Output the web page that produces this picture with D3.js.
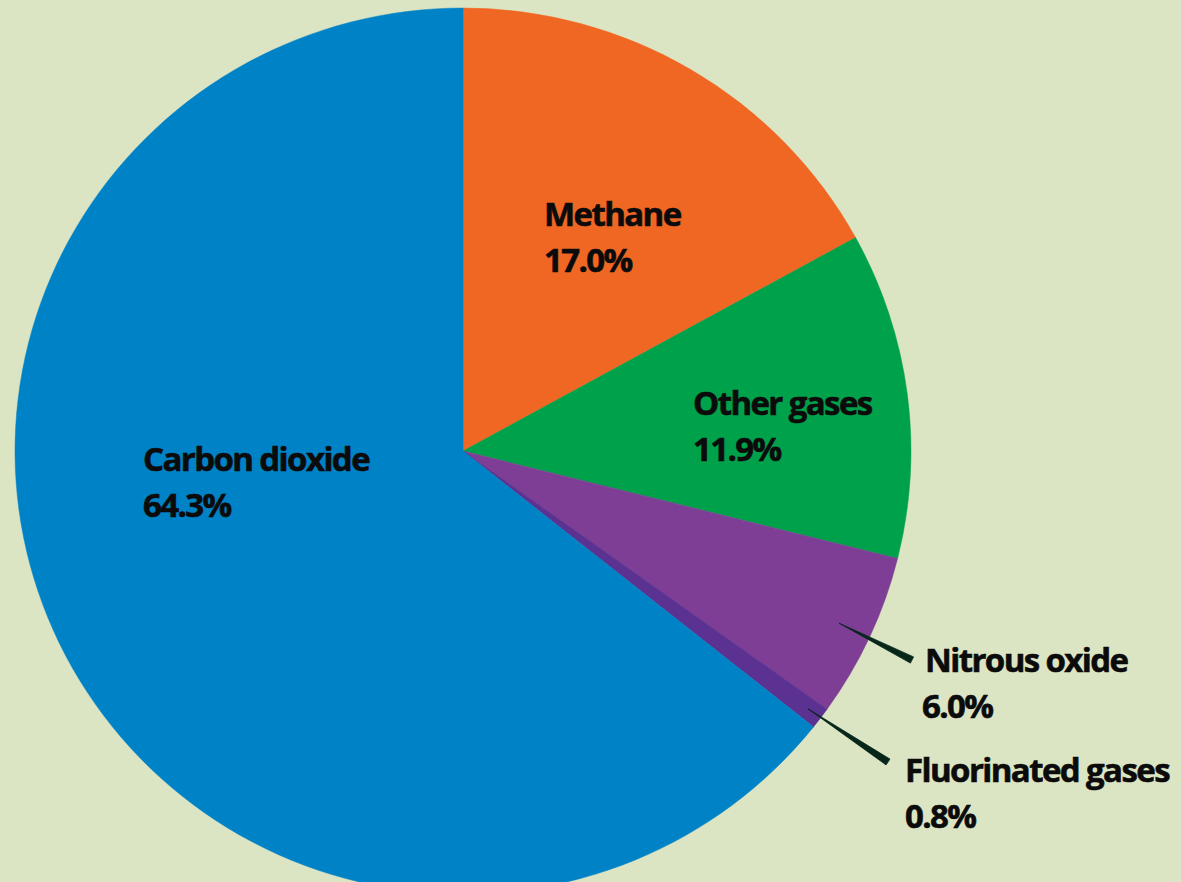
<!DOCTYPE html>
<html>
<head>
<meta charset="utf-8">
<script src="https://cdn.jsdelivr.net/npm/d3@7"></script>
<style>
  html, body { margin: 0; padding: 0; background: #dce5c3; overflow: hidden; }
  svg { display: block; }
  text { font-family: "Open Sans", "DejaVu Sans", sans-serif; font-weight: 700; fill: #0b0b0b; }
</style>
</head>
<body>
<svg id="chart" width="1181" height="882"></svg>
<script>
// Greenhouse gas shares, clockwise from 12 o'clock
const gases = ["Methane", "Other gases", "Nitrous oxide", "Fluorinated gases", "Carbon dioxide"];
const shares = [17.0, 11.9, 6.0, 0.8, 64.3];
const colors = ["#f06724", "#00a14b", "#7e3e96", "#5b3191", "#0082c6"];

// Label layout: inside labels sit in their slice, outside ones get a tapered leader
const labelLayout = [
  { x: 544, y: 226, outside: false },
  { x: 693, y: 415, outside: false },
  { x: 925, y: 672, outside: true, lead: [0.925, 912, 660], x2: 922 },
  { x: 905, y: 782, outside: true, lead: [0.965, 888, 762], x2: 905 },
  { x: 143, y: 471, outside: false }
];

const W = 1181, H = 882;
const cx = 463, cy = 451, R = 448, ry = 443;
const yScale = ry / R;

const svg = d3.select("#chart");
svg.append("rect").attr("width", W).attr("height", H).attr("fill", "#dce5c3");

const data = gases.map((g, i) => ({ name: g, value: shares[i], color: colors[i], layout: labelLayout[i] }));

const pie = d3.pie().value(d => d.value).sort(null).startAngle(0).endAngle(2 * Math.PI);
const arc = d3.arc().innerRadius(0).outerRadius(R);
const arcs = pie(data);

const g = svg.append("g").attr("transform", `translate(${cx},${cy}) scale(1,${yScale})`);
g.selectAll("path.slice")
  .data(arcs)
  .join("path")
  .attr("class", "slice")
  .attr("d", arc)
  .attr("fill", d => d.data.color)
  .attr("stroke", d => d.data.color)
  .attr("stroke-width", 0.5);

// point on the (slightly flattened) pie at a given angle and radius fraction
function polar(angle, frac) {
  return [cx + R * frac * Math.sin(angle), cy - R * yScale * frac * Math.cos(angle)];
}

const fmt = v => d3.format(".1f")(v) + "%";
const fs = 33, lh = 46;

arcs.forEach(a => {
  const L = a.data.layout;
  if (L.outside) {
    const mid = (a.startAngle + a.endAngle) / 2;
    const [x0, y0] = polar(mid, L.lead[0]);
    const x1 = L.lead[1], y1 = L.lead[2];
    const dx = x1 - x0, dy = y1 - y0, len = Math.hypot(dx, dy);
    const nx = -dy / len, ny = dx / len, w = 3.5;
    svg.append("path")
      .attr("d", `M${x0},${y0} L${x1 + nx * w},${y1 + ny * w} L${x1 - nx * w},${y1 - ny * w} Z`)
      .attr("fill", "#06261a")
      .attr("stroke", "#06261a")
      .attr("stroke-width", 0.8)
      .attr("stroke-linejoin", "round");
  }
  const t = svg.append("text")
    .attr("font-size", fs)
    .attr("letter-spacing", -1.6)
    .attr("stroke", "#0b0b0b")
    .attr("stroke-width", 0.6);
  t.append("tspan").attr("x", L.x).attr("y", L.y).text(a.data.name);
  t.append("tspan").attr("x", L.x2 !== undefined ? L.x2 : L.x).attr("y", L.y + lh).text(fmt(a.data.value));
});
</script>
</body>
</html>
